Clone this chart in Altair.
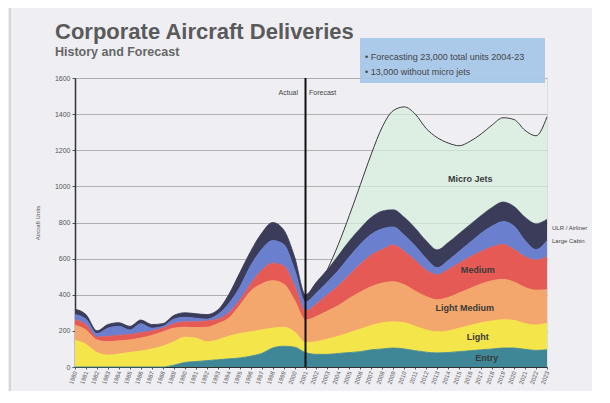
import altair as alt
import pandas as pd

years = list(range(1980, 2024))

entry_top = [0, 0, 0, 0, 0, 0, 0, 0, 0, 10, 25, 30, 35, 40, 45, 50, 60, 75, 105, 115, 110, 80,
             70, 70, 75, 80, 85, 95, 100, 105, 100, 90, 82, 78, 80, 85, 90, 95, 100, 105, 105, 98, 92, 95]
light_top = [150, 125, 80, 66, 72, 80, 88, 100, 115, 140, 165, 160, 140, 150, 170, 185, 195, 205, 215, 220, 195, 135,
             140, 155, 170, 190, 210, 230, 245, 250, 245, 225, 205, 195, 200, 215, 230, 245, 255, 262, 258, 240, 232, 243]
lmed_top = [232, 205, 150, 140, 145, 150, 160, 175, 195, 215, 220, 218, 220, 240, 270, 340, 420, 460, 478, 460, 370, 260,
            280, 310, 340, 380, 415, 445, 465, 472, 455, 420, 390, 372, 385, 410, 435, 460, 478, 485, 470, 440, 425, 428]
medium_top = [262, 235, 165, 170, 175, 180, 190, 200, 215, 240, 250, 250, 255, 265, 300, 370, 460, 535, 575, 560, 450, 310,
              350, 400, 450, 510, 570, 620, 650, 675, 640, 590, 535, 510, 540, 575, 610, 640, 665, 678, 650, 610, 592, 610]
large_top = [290, 265, 185, 215, 225, 205, 240, 215, 225, 265, 275, 270, 265, 290, 350, 440, 560, 650, 700, 680, 540, 360,
             410, 470, 535, 610, 680, 735, 765, 775, 730, 670, 600, 550, 590, 640, 690, 740, 780, 805, 780, 700, 650, 700]
ulr_top = [320, 290, 200, 235, 245, 225, 260, 235, 240, 285, 300, 295, 290, 315, 400, 520, 640, 740, 800, 760, 610, 400,
           470, 540, 620, 700, 770, 830, 865, 872, 830, 770, 700, 650, 690, 740, 790, 840, 885, 915, 890, 830, 795, 820]

micro_years = list(range(2003, 2024))
micro_top = [540, 680, 840, 1010, 1180, 1330, 1420, 1440, 1400, 1320, 1270, 1240, 1225, 1250, 1290, 1340, 1380, 1370,
             1310, 1280, 1385]

band_names = ["Entry", "Light", "Light Medium", "Medium", "Large Cabin", "ULR / Airliner"]
band_colors = ["#3f8796", "#f4e54a", "#f4a76c", "#e65a55", "#6a80cf", "#3b3b5a"]
y_ticks = [0, 200, 400, 600, 800, 1000, 1200, 1400, 1600]

title_text = "Corporate Aircraft Deliveries"
subtitle_text = "History and Forecast"
box_lines = ["\u2022 Forecasting 23,000 total units 2004-23", "\u2022 13,000 without micro jets"]
divider_year = 2001

tops = [entry_top, light_top, lmed_top, medium_top, large_top, ulr_top]
rows = []
for i, name in enumerate(band_names):
    lo = [0] * len(years) if i == 0 else tops[i - 1]
    for j, yr in enumerate(years):
        rows.append({"year": yr, "band": name, "order": i, "lo": lo[j], "hi": tops[i][j]})
df = pd.DataFrame(rows)

ulr_map = dict(zip(years, ulr_top))
micro_df = pd.DataFrame({"year": micro_years, "hi": micro_top,
                         "lo": [ulr_map[y] for y in micro_years]})

xscale = alt.Scale(domain=[1980, 2023], nice=False, zero=False)
yscale = alt.Scale(domain=[0, 1600], nice=False)

bands = alt.Chart(df).mark_area(
    interpolate="monotone", line={"color": "#4a3b35", "strokeWidth": 0.9}, opacity=1
).encode(
    x=alt.X("year:Q", scale=xscale, axis=alt.Axis(values=years, format="d", labelAngle=-70,
                                                   labelFontSize=6, labelColor="#555", labelOverlap=False,
                                                   labelBound=False, labelFlush=False,
                                                   domainColor="#333", tickColor="#555", tickSize=2,
                                                   title=None, grid=False)),
    y=alt.Y("hi:Q", scale=yscale, stack=None,
            axis=alt.Axis(values=y_ticks, format="d", labelOverlap=False, labelFlush=False,
                          labelFontSize=7, labelColor="#555", domainColor="#333",
                          domainWidth=1.5, tickColor="#555", tickSize=3, grid=True, gridColor="#a0a0a0",
                          gridWidth=0.8, title="Aircraft Units", titleFontSize=6, titleColor="#555",
                          titleFontWeight="normal", titlePadding=14)),
    y2="lo:Q",
    color=alt.Color("band:N", scale=alt.Scale(domain=band_names, range=band_colors), legend=None),
    order="order:Q",
)

micro = alt.Chart(micro_df).mark_area(
    interpolate="monotone", color="#d5eedb", line={"color": "#3a3a3a", "strokeWidth": 1}
).encode(x=alt.X("year:Q", scale=xscale, axis=None),
         y=alt.Y("hi:Q", scale=yscale, axis=None), y2="lo:Q")

divider = alt.Chart(pd.DataFrame({"year": [divider_year]})).mark_rule(
    color="#111", strokeWidth=2).encode(x=alt.X("year:Q", scale=xscale, axis=None))

labels_df = pd.DataFrame({
    "year": [2016.0, 2016.7, 2015.5, 2016.7, 2017.5],
    "val": [1040, 535, 325, 165, 48],
    "text": ["Micro Jets", "Medium", "Light Medium", "Light", "Entry"],
})
inner_labels = alt.Chart(labels_df).mark_text(
    fontSize=9, fontWeight="bold", color="#3a3a3a", font="Liberation Sans"
).encode(x=alt.X("year:Q", scale=xscale, axis=None), y=alt.Y("val:Q", scale=yscale, axis=None), text="text:N")

right_df = pd.DataFrame({"val": [772, 700], "text": ["ULR / Airliner", "Large Cabin"]})
right_labels = alt.Chart(right_df).mark_text(
    fontSize=6, color="#444", align="left", font="Liberation Sans"
).encode(x=alt.value(477), y=alt.Y("val:Q", scale=yscale, axis=None), text="text:N")

ann_df = pd.DataFrame({"text": ["Actual", "Forecast"]})
actual_lbl = alt.Chart(ann_df.iloc[[0]]).mark_text(fontSize=7, color="#444", align="right").encode(
    x=alt.value(223), y=alt.value(15), text="text:N")
forecast_lbl = alt.Chart(ann_df.iloc[[1]]).mark_text(fontSize=7, color="#444", align="left").encode(
    x=alt.value(234), y=alt.value(15), text="text:N")

tdf = pd.DataFrame({"t": [title_text], "s": [subtitle_text]})
title = alt.Chart(tdf).mark_text(fontSize=22, fontWeight="bold", color="#5a5a5a", align="left",
                                 baseline="alphabetic", font="Liberation Sans").encode(
    x=alt.value(-20), y=alt.value(-39), text="t:N")
subtitle = alt.Chart(tdf).mark_text(fontSize=12.5, fontWeight="bold", color="#666", align="left",
                                    baseline="alphabetic", font="Liberation Sans").encode(
    x=alt.value(-20), y=alt.value(-22), text="s:N")

box = alt.Chart(tdf).mark_rect(color="#a6c6e8", opacity=0.95).encode(
    x=alt.value(285), x2=alt.value(470), y=alt.value(-40), y2=alt.value(5))
box_df = pd.DataFrame({"t": box_lines, "yy": [-18, -3]})
box_text = alt.Chart(box_df).mark_text(fontSize=9, color="#444", align="left", baseline="alphabetic",
                                       font="Liberation Sans").encode(
    x=alt.value(290), y=alt.Y("yy:Q", scale=None, axis=None), text="t:N")

band_bottom = alt.Chart(tdf).mark_rect(color="#8fb9d6").encode(
    x=alt.value(-67), x2=alt.value(530), y=alt.value(318), y2=alt.value(330))
left_edge = alt.Chart(tdf).mark_rule(color="#bbbbbb", strokeWidth=1).encode(
    x=alt.value(-65), y=alt.value(-70), y2=alt.value(318))

chart = alt.layer(
    left_edge, bands, micro, divider, inner_labels, right_labels, actual_lbl, forecast_lbl,
    box, box_text, title, subtitle, band_bottom
).resolve_axis(x="independent", y="independent").properties(
    width=472, height=289,
    padding={"left": 67, "top": 70, "right": 45, "bottom": 24},
    autosize=alt.AutoSizeParams(type="none"),
    background="#efeef3",
).configure_view(stroke=None).configure(font="Liberation Sans")

chart.save("out.html", embed_options={"renderer": "svg", "actions": False})
